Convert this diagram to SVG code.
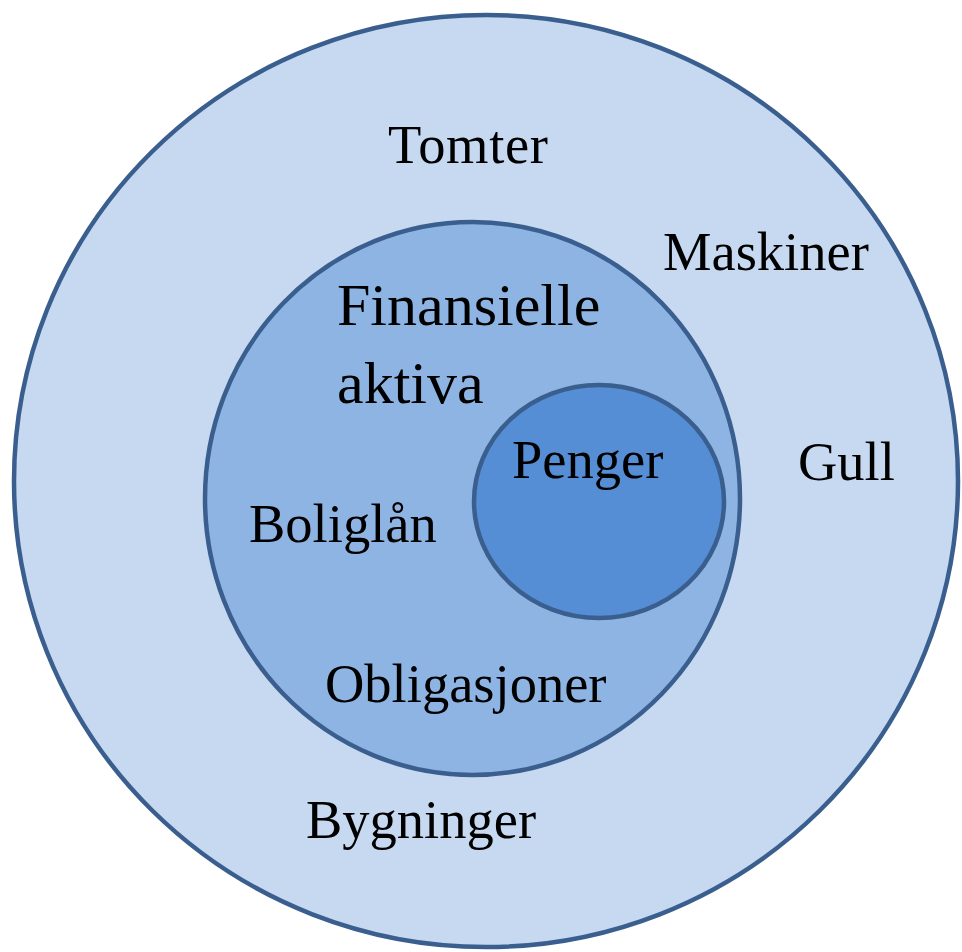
<svg xmlns="http://www.w3.org/2000/svg" width="962" height="952" viewBox="0 0 962 952">
<style>
.ring{stroke:#3A5F8F;stroke-width:4.5}
.t{font-family:"Liberation Serif","Times New Roman",serif;font-size:54.5px;fill:#000}
.big{font-size:60px}
</style>
<rect width="962" height="952" fill="#FFFFFF"/>
<g id="outer">
<ellipse class="ring" cx="486" cy="481" rx="472" ry="466" fill="#C6D9F1"/>
<text class="t" x="388" y="163" textLength="160" lengthAdjust="spacing">Tomter</text>
<text class="t" x="663" y="270">Maskiner</text>
<text class="t" x="798" y="480">Gull</text>
<text class="t" x="306" y="838">Bygninger</text>
</g>
<g id="finansielle">
<ellipse class="ring" cx="472.5" cy="498.5" rx="267.5" ry="276.5" fill="#8EB4E3"/>
<text class="t big" x="337" y="325">Finansielle</text>
<text class="t big" x="337" y="403">aktiva</text>
<text class="t" x="249" y="542">Boliglån</text>
<text class="t" x="325" y="702">Obligasjoner</text>
</g>
<g id="penger">
<ellipse class="ring" cx="599" cy="501.5" rx="125" ry="116.5" fill="#558ED5"/>
<text class="t" x="512" y="478">Penger</text>
</g>
<g id="connectors"/>
</svg>
